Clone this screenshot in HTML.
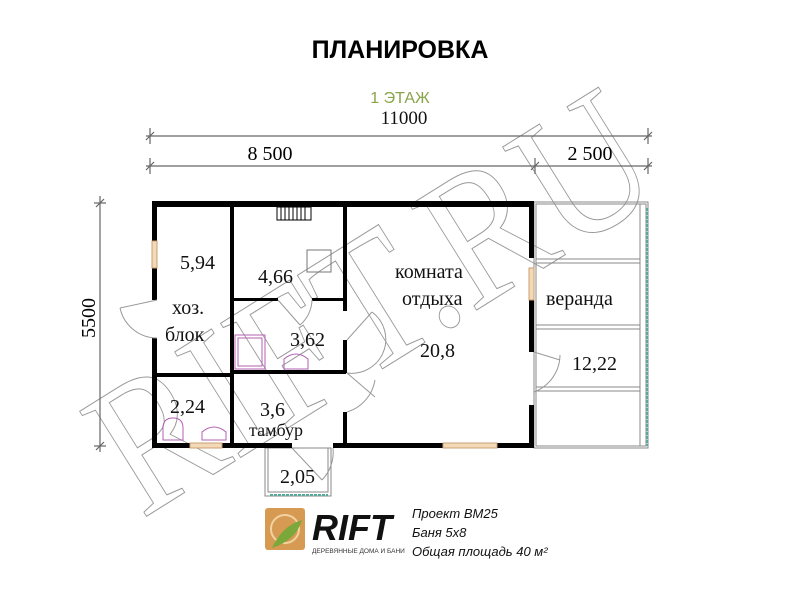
<!DOCTYPE html>
<html><head><meta charset="utf-8"><style>
html,body{margin:0;padding:0;background:#fff}
svg{display:block}
</style></head><body>
<svg width="800" height="591" viewBox="0 0 800 591" xmlns="http://www.w3.org/2000/svg" font-family="Liberation Serif,serif">
<rect width="800" height="591" fill="#fff"/>
<!-- watermark -->
<g transform="translate(370,300) rotate(-32)" opacity="0.6">
<text x="0" y="65" text-anchor="middle" font-size="190" fill="none" stroke="#555" stroke-width="1" textLength="620" lengthAdjust="spacingAndGlyphs" font-family="Liberation Serif,serif">RIFT.RU</text>
</g>
<text x="400" y="58" text-anchor="middle" font-family="Liberation Sans,sans-serif" font-weight="bold" font-size="25" fill="#000">ПЛАНИРОВКА</text>
<text x="400" y="103" text-anchor="middle" font-family="Liberation Sans,sans-serif" font-size="16" fill="#8aa44a">1 ЭТАЖ</text>
<text x="404" y="124" text-anchor="middle" font-size="19" fill="#111">11000</text>
<!-- dims -->
<g stroke="#666" stroke-width="1.2">
<line x1="146" y1="136" x2="652" y2="136"/>
<line x1="146" y1="166" x2="652" y2="166"/>
<line x1="150" y1="128" x2="150" y2="144"/><line x1="146" y1="140" x2="154" y2="132"/>
<line x1="648" y1="128" x2="648" y2="144"/><line x1="644" y1="140" x2="652" y2="132"/>
<line x1="150" y1="158" x2="150" y2="174"/><line x1="146" y1="170" x2="154" y2="162"/>
<line x1="535" y1="158" x2="535" y2="174"/><line x1="531" y1="170" x2="539" y2="162"/>
<line x1="648" y1="158" x2="648" y2="174"/><line x1="644" y1="170" x2="652" y2="162"/>
<line x1="100" y1="196" x2="100" y2="452"/>
<line x1="94" y1="203" x2="106" y2="203"/><line x1="96" y1="207" x2="104" y2="199"/>
<line x1="94" y1="446" x2="106" y2="446"/><line x1="96" y1="450" x2="104" y2="442"/>
</g>
<text x="270" y="160" text-anchor="middle" font-size="20">8 500</text>
<text x="590" y="160" text-anchor="middle" font-size="20">2 500</text>
<text transform="translate(95,318) rotate(-90)" text-anchor="middle" font-size="20">5500</text>
<!-- veranda -->
<g stroke="#888" stroke-width="1" fill="none">
<rect x="534" y="202" width="114" height="246"/>
<rect x="536" y="204" width="110" height="242"/>
<line x1="536" y1="259" x2="640" y2="259"/><line x1="536" y1="263" x2="640" y2="263"/>
<line x1="536" y1="325" x2="640" y2="325"/><line x1="536" y1="329" x2="640" y2="329"/>
<line x1="536" y1="387" x2="640" y2="387"/><line x1="536" y1="391" x2="640" y2="391"/>
<line x1="640" y1="204" x2="640" y2="446"/>
</g>
<line x1="647" y1="208" x2="647" y2="446" stroke="#5a9" stroke-width="2" stroke-dasharray="3,1"/>
<!-- porch -->
<g stroke="#888" stroke-width="1" fill="none">
<rect x="265" y="448" width="66" height="48"/>
<rect x="268" y="448" width="60" height="44"/>
</g>
<line x1="270" y1="495" x2="328" y2="495" stroke="#5a9" stroke-width="2" stroke-dasharray="3,1"/>
<!-- walls -->
<g fill="#000">
<rect x="152" y="201" width="382" height="6"/>
<rect x="152" y="201" width="5" height="40"/>
<rect x="152" y="268" width="5" height="32"/>
<rect x="152" y="338" width="5" height="110"/>
<rect x="152" y="443" width="38" height="5"/>
<rect x="222" y="443" width="70" height="5"/>
<rect x="333" y="443" width="110" height="5"/>
<rect x="497" y="443" width="37" height="5"/>
<rect x="529" y="201" width="5" height="57"/>
<rect x="529" y="300" width="5" height="52"/>
<rect x="529" y="405" width="5" height="43"/>
<rect x="230" y="201" width="4" height="181"/>
<rect x="230" y="382" width="4" height="66"/>
<rect x="152" y="373" width="82" height="4"/>
<rect x="343" y="201" width="4" height="110"/>
<rect x="343" y="340" width="4" height="33"/>
<rect x="343" y="412" width="4" height="36"/>
<rect x="234" y="298" width="44" height="3"/>
<rect x="312" y="298" width="33" height="3"/>
<rect x="234" y="370" width="112" height="4"/>
</g>
<!-- windows -->
<g fill="#f3d9b8" stroke="#c9a070" stroke-width="1">
<rect x="152" y="241" width="5" height="27"/>
<rect x="190" y="443" width="32" height="5"/>
<rect x="443" y="443" width="54" height="5"/>
<rect x="529" y="268" width="5" height="32"/>
</g>
<!-- stair/bench -->
<g stroke="#000" stroke-width="1" fill="none">
<rect x="277" y="207" width="34" height="13"/>
<line x1="281" y1="207" x2="281" y2="220"/><line x1="285" y1="207" x2="285" y2="220"/><line x1="289" y1="207" x2="289" y2="220"/><line x1="293" y1="207" x2="293" y2="220"/><line x1="297" y1="207" x2="297" y2="220"/><line x1="301" y1="207" x2="301" y2="220"/><line x1="305" y1="207" x2="305" y2="220"/>
</g>
<rect x="307" y="250" width="24" height="22" fill="none" stroke="#777"/>
<!-- fixtures -->
<g stroke="#b060b0" fill="none" stroke-width="1">
<rect x="235" y="335" width="30" height="34"/>
<rect x="238" y="338" width="24" height="28"/>
<path d="M284 369 v-10 q12 -10 24 0 v10z"/>
<path d="M163 440 v-12 q0 -10 10 -10 q10 0 10 10 v12z"/>
<path d="M202 440 v-8 q12 -10 24 0 v8z"/>
</g>
<!-- doors -->
<g stroke="#999" stroke-width="1" fill="none">
<path d="M157 300 L120 308 M157 338 A38 38 0 0 1 120 308"/>
<path d="M347 340 L372 312 M347 373 A34 34 0 0 0 372 312"/>
<path d="M347 373 L375 397 M347 412 A40 40 0 0 0 375 380"/>
<path d="M292 448 L322 480 M333 448 A40 40 0 0 1 322 480"/>
<path d="M534 352 L560 360 M534 392 A40 40 0 0 0 560 355"/>
<path d="M278 300 L300 325 M312 300 A34 34 0 0 1 300 325"/>
</g>
<!-- labels -->
<g font-size="20" fill="#111">
<text x="180" y="269">5,94</text>
<text x="258" y="283">4,66</text>
<text x="172" y="314">хоз.</text>
<text x="165" y="341">блок</text>
<text x="290" y="346">3,62</text>
<text x="170" y="413">2,24</text>
<text x="260" y="416">3,6</text>
<text x="249" y="436" font-size="18">тамбур</text>
<text x="280" y="483">2,05</text>
<text x="395" y="278">комната</text>
<text x="402" y="305">отдыха</text>
<text x="420" y="357">20,8</text>
<text x="546" y="305">веранда</text>
<text x="572" y="370">12,22</text>
</g>
<!-- logo -->
<rect x="265" y="508" width="40" height="42" rx="3" fill="#d69a52"/>
<circle cx="285" cy="529" r="14" fill="none" stroke="#f2d2a0" stroke-width="2"/>
<path d="M272 548 q10 -22 30 -28 q-6 20 -30 28z" fill="#7aa83a"/>
<text x="312" y="540" font-family="Liberation Sans,sans-serif" font-weight="bold" font-style="italic" font-size="36" fill="#111">RIFT</text>
<text x="312" y="553" font-family="Liberation Sans,sans-serif" font-size="6.5" fill="#333">ДЕРЕВЯННЫЕ ДОМА И БАНИ</text>
<g font-family="Liberation Sans,sans-serif" font-style="italic" font-size="13" fill="#111">
<text x="412" y="518">Проект ВМ25</text>
<text x="412" y="537">Баня 5х8</text>
<text x="412" y="556">Общая площадь 40 м²</text>
</g>
</svg>
</body></html>
